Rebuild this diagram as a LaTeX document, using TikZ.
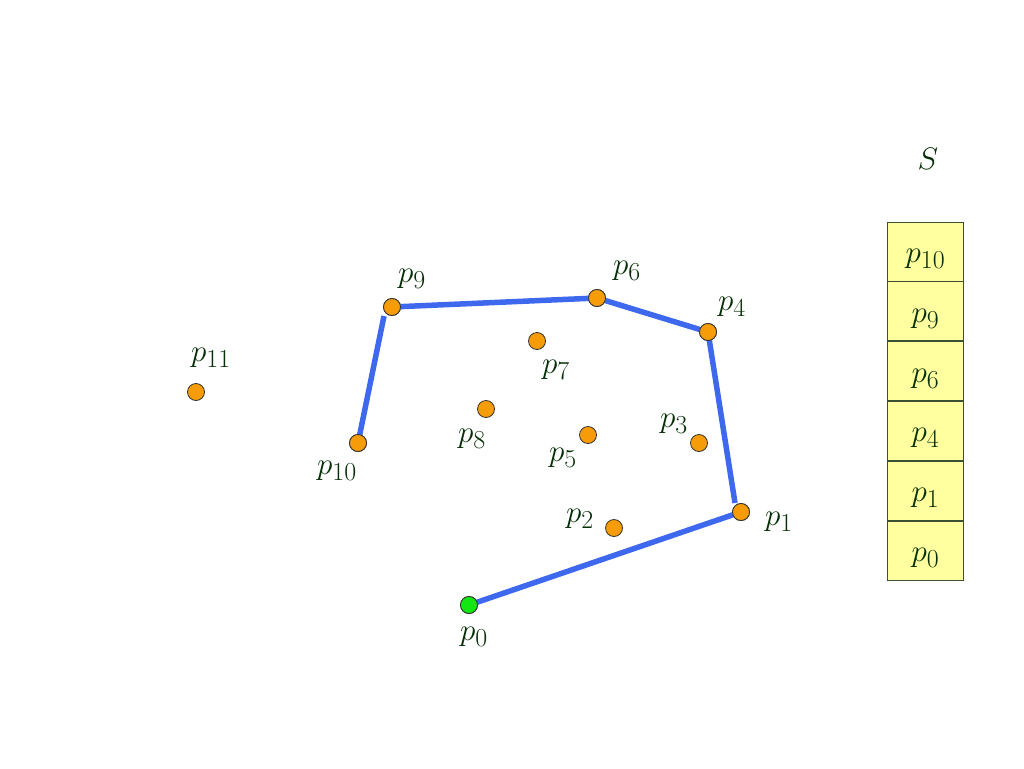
\documentclass[tikz,border=0pt]{standalone}
\usepackage{graphicx}
\usepackage{tikz}
\definecolor{lbl}{RGB}{8,48,8}
\definecolor{hull}{RGB}{62,104,238}
\definecolor{dotor}{RGB}{246,156,8}
\definecolor{dotgr}{RGB}{20,230,20}
\definecolor{cellfill}{RGB}{255,255,160}
\definecolor{celldraw}{RGB}{60,80,50}
\newcommand{\plab}[1]{\scalebox{1.25}{$#1$}}
\tikzset{
  pt/.style={circle, draw=black!80, line width=0.8pt, fill=dotor, minimum size=17pt, inner sep=0pt},
  ptstart/.style={pt, fill=dotgr},
  lab/.style={text=lbl, font=\fontsize{24.88}{30}\selectfont, inner sep=0pt, yshift=-4pt},
  edge/.style={draw=hull, line width=5.5pt},
  cell/.style={draw=celldraw, line width=0.8pt, fill=cellfill, minimum width=76pt, minimum height=59pt, inner sep=0pt, text height=26pt, text depth=4pt, text=lbl, font=\fontsize{24.88}{30}\selectfont}
}
\begin{document}
\begin{tikzpicture}[x=1pt,y=-1pt]
\useasboundingbox (0,0) rectangle (1024,768);
% points
\node[ptstart] (p0) at (469,605) {};
\node[pt] (p1) at (741,512) {};
\node[pt] (p2) at (614,528) {};
\node[pt] (p3) at (699,443) {};
\node[pt] (p4) at (708,332) {};
\node[pt] (p5) at (588,435) {};
\node[pt] (p6) at (597,298) {};
\node[pt] (p7) at (537,341) {};
\node[pt] (p8) at (486,409) {};
\node[pt] (p9) at (392,307) {};
\node[pt] (p10) at (358,443) {};
\node[pt] (p11) at (196,392) {};
% hull edges
\coordinate (e9) at (384,316);
\coordinate (e1) at (735,503);
\path[edge] (p10.center) -- (e9);
\path[edge] (p9.center) -- (p6.center);
\path[edge] (p6.center) -- (p4.center);
\path[edge] (p4.center) -- (e1);
\path[edge] (p1.center) -- (p0.center);
% redraw dots on top
\node[ptstart] at (p0) {};
\node[pt] at (p1) {};
\node[pt] at (p4) {};
\node[pt] at (p6) {};
\node[pt] at (p9) {};
\node[pt] at (p10) {};
% labels
\node[lab] (l0) at (474,633) {\plab{p_0}};
\node[lab] (l1) at (779,518) {\plab{p_1}};
\node[lab] (l2) at (580,515) {\plab{p_2}};
\node[lab] (l3) at (674,420) {\plab{p_3}};
\node[lab] (l4) at (732,303) {\plab{p_4}};
\node[lab] (l5) at (563,454) {\plab{p_5}};
\node[lab] (l6) at (627,267) {\plab{p_6}};
\node[lab] (l7) at (556,366) {\plab{p_7}};
\node[lab] (l8) at (472,435) {\plab{p_8}};
\node[lab] (l9) at (412,275) {\plab{p_9}};
\node[lab] (l10) at (337,467) {\plab{p_{10}}};
\node[lab] (l11) at (211,354) {\plab{p_{11}}};
% stack
\node[lab] (S) at (928,155) {\plab{S}};
\node[cell] (c0) at (925.5,550.5) {\plab{p_0}};
\node[cell, anchor=south] (c1) at (c0.north) {\plab{p_1}};
\node[cell, anchor=south] (c4) at (c1.north) {\plab{p_4}};
\node[cell, anchor=south] (c6) at (c4.north) {\plab{p_6}};
\node[cell, anchor=south] (c9) at (c6.north) {\plab{p_9}};
\node[cell, anchor=south] (c10) at (c9.north) {\plab{p_{10}}};
\end{tikzpicture}
\end{document}
